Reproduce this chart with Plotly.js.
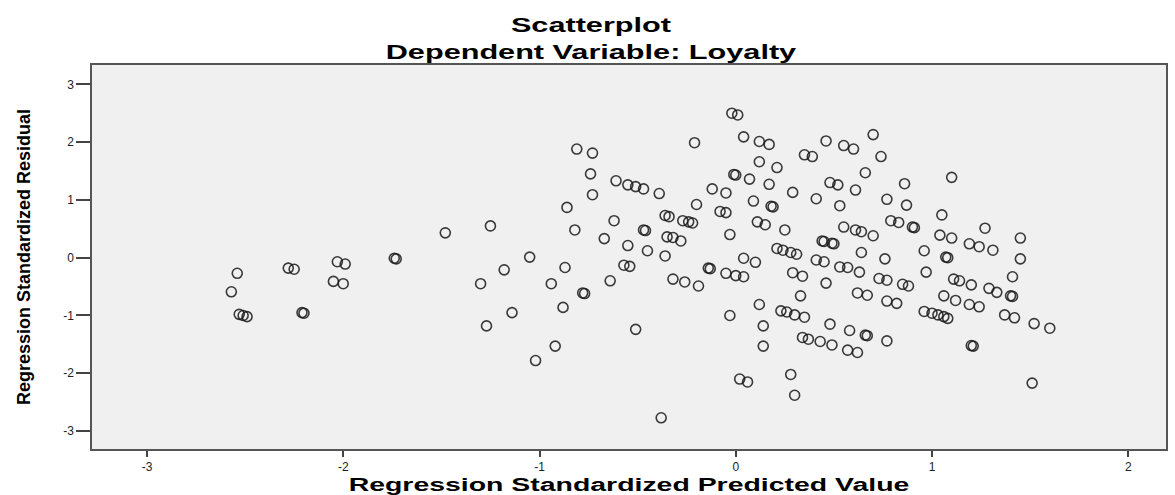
<!DOCTYPE html>
<html>
<head>
<meta charset="utf-8">
<script src="https://cdn.plot.ly/plotly-3.0.1.min.js"></script>
<style>
  html, body { margin: 0; padding: 0; background: #fff; }
  #chart { width: 1175px; height: 495px; }
  #chart .gtitle, #chart .xtitle { transform-box: fill-box; transform-origin: 50% 50%; }
  #chart .gtitle { transform: scaleX(1.46); }
  #chart .xtitle { transform: scaleX(1.58); }
</style>
</head>
<body>
<div id="chart"></div>
<script>
// Regression standardized predicted values (x) and standardized residuals (y)
var predictedValue = [
  -2.57,-2.54,-2.53,-2.51,-2.49,-2.28,-2.25,-2.21,-2.20,-2.03,-1.99,-2.05,-2.00,-1.74,-1.73,-1.48,
  -0.81,-0.73,-0.74,-0.61,-0.55,-0.51,-0.47,-0.73,-0.86,-1.25,-0.62,-0.82,-0.67,-0.55,-0.47,-0.46,-1.05,-1.18,-0.87,-0.57,-0.54,-1.30,-0.94,-0.64,-0.78,-0.77,-0.88,-1.14,-1.27,-0.51,-0.92,-1.02,-0.38,
  -0.02,0.01,-0.21,0.04,0.12,0.17,0.12,0.21,-0.01,0.00,0.07,0.17,0.29,-0.39,-0.12,-0.05,-0.20,0.09,0.18,0.19,-0.08,-0.05,-0.36,-0.34,-0.27,-0.24,-0.22,0.11,0.15,0.25,-0.03,-0.35,-0.32,-0.28,-0.45,-0.36,0.21,0.24,0.28,0.31,0.04,0.10,-0.14,-0.13,-0.05,0.00,0.04,-0.32,-0.26,-0.19,0.29,0.33,0.12,-0.03,0.23,0.26,0.30,0.35,0.14,0.14,0.28,0.30,0.02,0.06,
  0.70,0.46,0.55,0.60,0.35,0.39,0.74,0.66,0.48,0.52,0.61,0.41,0.53,0.86,0.77,0.87,1.05,0.79,0.83,0.90,0.91,1.04,0.55,0.61,0.64,0.70,0.44,0.45,0.49,0.50,0.64,0.76,0.96,1.07,1.08,0.41,0.45,0.53,0.57,0.63,0.34,0.46,0.73,0.77,0.85,0.88,0.97,0.62,0.67,0.77,0.82,0.48,0.58,0.66,0.67,0.77,0.34,0.37,0.43,0.49,0.57,0.62,
  1.10,1.27,1.10,1.19,1.24,1.31,1.45,1.45,1.41,1.11,1.14,1.20,1.29,1.33,1.40,1.41,1.06,1.12,1.19,1.24,0.96,1.00,1.03,1.06,1.08,1.37,1.42,1.52,1.60,1.20,1.21,1.51
];
var standardizedResidual = [
  -0.59,-0.27,-0.98,-1.00,-1.02,-0.18,-0.20,-0.95,-0.96,-0.07,-0.11,-0.41,-0.45,-0.01,-0.02,0.43,
  1.88,1.81,1.45,1.33,1.26,1.23,1.19,1.09,0.87,0.55,0.64,0.48,0.33,0.21,0.48,0.47,0.01,-0.21,-0.17,-0.13,-0.15,-0.45,-0.45,-0.40,-0.61,-0.62,-0.86,-0.95,-1.18,-1.24,-1.53,-1.78,-2.77,
  2.50,2.47,1.99,2.09,2.01,1.96,1.66,1.56,1.44,1.43,1.36,1.27,1.13,1.11,1.19,1.12,0.92,0.98,0.89,0.88,0.80,0.78,0.73,0.71,0.64,0.62,0.60,0.62,0.57,0.48,0.40,0.36,0.35,0.29,0.12,0.03,0.16,0.13,0.09,0.06,-0.01,-0.08,-0.18,-0.19,-0.27,-0.31,-0.33,-0.37,-0.42,-0.49,-0.26,-0.66,-0.81,-1.00,-0.92,-0.94,-0.99,-1.03,-1.18,-1.53,-2.02,-2.38,-2.10,-2.15,
  2.13,2.02,1.94,1.88,1.78,1.75,1.75,1.47,1.30,1.26,1.17,1.02,0.90,1.28,1.01,0.91,0.74,0.64,0.61,0.53,0.52,0.39,0.53,0.48,0.45,0.38,0.29,0.28,0.25,0.24,0.09,-0.02,0.12,0.01,0.00,-0.04,-0.07,-0.16,-0.17,-0.25,-0.32,-0.44,-0.36,-0.39,-0.46,-0.49,-0.25,-0.61,-0.65,-0.75,-0.79,-1.15,-1.26,-1.34,-1.35,-1.44,-1.38,-1.41,-1.45,-1.51,-1.60,-1.64,
  1.39,0.51,0.34,0.24,0.19,0.13,0.34,-0.02,-0.33,-0.37,-0.40,-0.47,-0.53,-0.60,-0.66,-0.67,-0.66,-0.74,-0.81,-0.85,-0.93,-0.96,-0.99,-1.02,-1.05,-0.99,-1.04,-1.14,-1.22,-1.52,-1.53,-2.17
];
var xTicks = [-3, -2, -1, 0, 1, 2];
var yTicks = [-3, -2, -1, 0, 1, 2, 3];

var fontFam = 'Liberation Sans, Arial, Helvetica, sans-serif';

var trace = {
  type: 'scatter',
  mode: 'markers',
  x: predictedValue,
  y: standardizedResidual,
  marker: {
    symbol: 'circle-open',
    size: 10,
    color: 'rgba(25,25,25,0.85)',
    line: { width: 1.6, color: 'rgba(25,25,25,0.85)' }
  },
  hoverinfo: 'x+y'
};

var axisCommon = {
  showgrid: false,
  zeroline: false,
  showline: true,
  mirror: true,
  linecolor: '#555',
  linewidth: 1.5,
  ticks: 'outside',
  tickwidth: 1.5,
  tickcolor: '#444',
  tickfont: { family: fontFam, size: 12, color: '#222' },
  tickmode: 'array'
};

var layout = {
  width: 1175,
  height: 495,
  margin: { l: 92, r: 9, t: 65, b: 46 },
  paper_bgcolor: '#ffffff',
  plot_bgcolor: '#f0f0f0',
  showlegend: false,
  font: { family: fontFam, color: '#000' },
  title: {
    text: '<b>Scatterplot</b><br><b>Dependent Variable: Loyalty</b>',
    font: { family: fontFam, size: 21, color: '#000' },
    x: 0.503, xref: 'container', xanchor: 'center',
    y: 0.9355, yref: 'container', yanchor: 'top'
  },
  xaxis: Object.assign({}, axisCommon, {
    range: [-3.28, 2.192],
    tickvals: xTicks,
    ticktext: xTicks.map(String),
    ticklen: 6,
    title: {
      text: '<b>Regression Standardized Predicted Value</b>',
      font: { family: fontFam, size: 18, color: '#000' },
      standoff: 10
    }
  }),
  yaxis: Object.assign({}, axisCommon, {
    range: [-3.31, 3.334],
    tickvals: yTicks,
    ticktext: yTicks.map(String),
    ticklen: 14,
    title: {
      text: '<b>Regression Standardized Residual</b>',
      font: { family: fontFam, size: 18, color: '#000' },
      standoff: 28
    }
  })
};

Plotly.newPlot('chart', [trace], layout, { displayModeBar: false, responsive: false });
</script>
</body>
</html>
